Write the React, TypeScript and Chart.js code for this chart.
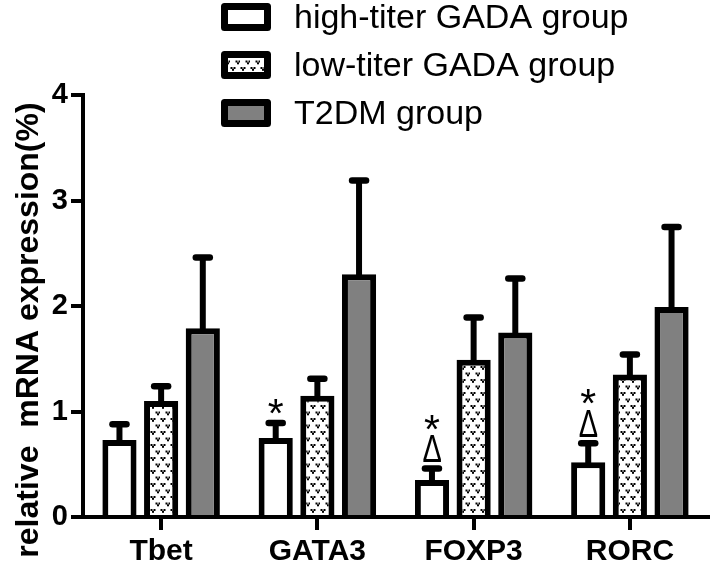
import React, { useEffect, useRef } from "react";
import { Chart, registerables } from "chart.js";

Chart.register(...registerables);

const categories = ["Tbet", "GATA3", "FOXP3", "RORC"];
const seriesNames = ["high-titer GADA group", "low-titer GADA group", "T2DM group"];
const highTiterMean = [0.73, 0.75, 0.35, 0.52];
const highTiterSD = [0.15, 0.14, 0.11, 0.18];
const lowTiterMean = [1.1, 1.15, 1.49, 1.35];
const lowTiterSD = [0.14, 0.16, 0.4, 0.19];
const t2dmMean = [1.79, 2.3, 1.75, 1.99];
const t2dmSD = [0.67, 0.89, 0.51, 0.76];
const starMarks = ["", "*", "*", "*"];
const deltaMarks = ["", "", "Δ", "Δ"];
const yMin = 0;
const yMax = 4;
const yStep = 1;
const yTitle = "relative  mRNA expression(%)";

const FONT = "'Liberation Sans', Arial, sans-serif";

function makePattern(): CanvasPattern | string {
  const c = document.createElement("canvas");
  c.width = 10;
  c.height = 13;
  const g = c.getContext("2d");
  if (!g) return "#ccc";
  g.fillStyle = "#fff";
  g.fillRect(0, 0, 10, 13);
  g.fillStyle = "#000";
  const v = (x: number, y: number) => {
    g.fillRect(x, y, 2, 2);
    g.fillRect(x + 3, y, 2, 2);
    g.fillRect(x + 1.5, y + 1.8, 2, 2);
  };
  v(0.5, 2);
  v(5.5, 8.5);
  const p = g.createPattern(c, "repeat");
  return p || "#ccc";
}

function drawScaledGlyph(ctx: any, text: string, font: string, cx: number, bottom: number, tw: number, th: number) {
  ctx.font = font;
  const m = ctx.measureText(text);
  const h = m.actualBoundingBoxAscent + m.actualBoundingBoxDescent;
  const w = m.actualBoundingBoxLeft + m.actualBoundingBoxRight;
  const sy = th / h;
  const sx = tw / w;
  const midOff = (m.actualBoundingBoxRight - m.actualBoundingBoxLeft) / 2;
  ctx.save();
  ctx.translate(cx, bottom);
  ctx.scale(sx, sy);
  ctx.textAlign = "left";
  ctx.textBaseline = "alphabetic";
  ctx.fillText(text, -midOff, -m.actualBoundingBoxDescent);
  ctx.restore();
  return th;
}

const errorBarPlugin = {
  id: "errorBars",
  afterDatasetsDraw(chart: any) {
    const ctx = chart.ctx;
    const y = chart.scales.y;
    ctx.save();
    ctx.strokeStyle = "#000";
    chart.data.datasets.forEach((ds: any, i: number) => {
      const meta = chart.getDatasetMeta(i);
      meta.data.forEach((bar: any, j: number) => {
        const capY = y.getPixelForValue(ds.data[j] + ds.sd[j]);
        ctx.lineWidth = 6;
        ctx.lineCap = "butt";
        ctx.beginPath();
        ctx.moveTo(bar.x, bar.y + 1);
        ctx.lineTo(bar.x, capY);
        ctx.stroke();
        ctx.lineCap = "round";
        ctx.lineWidth = 6.5;
        ctx.beginPath();
        ctx.moveTo(bar.x - 7, capY);
        ctx.lineTo(bar.x + 7, capY);
        ctx.stroke();
      });
    });
    ctx.restore();
  },
};

const markPlugin = {
  id: "marks",
  afterDatasetsDraw(chart: any) {
    const ctx = chart.ctx;
    const y = chart.scales.y;
    const ds = chart.data.datasets[0];
    const meta = chart.getDatasetMeta(0);
    ctx.save();
    ctx.fillStyle = "#000";
    meta.data.forEach((bar: any, j: number) => {
      const capY = y.getPixelForValue(ds.data[j] + ds.sd[j]);
      let bottom = capY - 9;
      if (deltaMarks[j]) {
        const b = capY - 6;
        const h = drawScaledGlyph(ctx, deltaMarks[j], `32px ${FONT}`, bar.x, b, 19, 27);
        bottom = b - h - 6;
      }
      if (starMarks[j]) {
        drawScaledGlyph(ctx, starMarks[j], `46px ${FONT}`, bar.x, bottom, 16, 15);
      }
    });
    ctx.restore();
  },
};

const legendPlugin = {
  id: "customLegend",
  afterDraw(chart: any) {
    const ctx = chart.ctx;
    ctx.save();
    chart.data.datasets.forEach((ds: any, i: number) => {
      const top = 3 + i * 48;
      const left = 221;
      const w = 50;
      const h = 28;
      ctx.fillStyle = ds.backgroundColor;
      ctx.fillRect(left + 3, top + 3, w - 6, h - 6);
      ctx.strokeStyle = "#000";
      ctx.lineWidth = 7;
      ctx.lineJoin = "round";
      ctx.strokeRect(left + 3.5, top + 3.5, w - 7, h - 7);
      ctx.fillStyle = "#000";
      ctx.font = `34px ${FONT}`;
      ctx.textAlign = "left";
      ctx.textBaseline = "alphabetic";
      ctx.fillText(ds.label, 294, top + 25);
    });
    ctx.restore();
  },
};

const yTitlePlugin = {
  id: "yTitle",
  afterDraw(chart: any) {
    const ctx = chart.ctx;
    ctx.save();
    ctx.translate(38, 330);
    ctx.rotate(-Math.PI / 2);
    ctx.fillStyle = "#000";
    ctx.font = `bold 32px ${FONT}`;
    ctx.textAlign = "center";
    ctx.textBaseline = "alphabetic";
    ctx.fillText(yTitle, 0, 0);
    ctx.restore();
  },
};

export default function App() {
  const ref = useRef<HTMLCanvasElement | null>(null);
  useEffect(() => {
    if (!ref.current) return;
    const pattern = makePattern();
    const common = { borderColor: "#000", borderWidth: 6, borderSkipped: "start" as const };
    const chart = new Chart(ref.current, {
      type: "bar",
      data: {
        labels: categories,
        datasets: [
          { label: seriesNames[0], data: highTiterMean, sd: highTiterSD, backgroundColor: "#ffffff", ...common } as any,
          { label: seriesNames[1], data: lowTiterMean, sd: lowTiterSD, backgroundColor: pattern, ...common } as any,
          { label: seriesNames[2], data: t2dmMean, sd: t2dmSD, backgroundColor: "#808080", ...common } as any,
        ],
      },
      options: {
        responsive: false,
        devicePixelRatio: 1,
        animation: false,
        layout: { padding: { top: 95, right: 10, left: 0, bottom: 0 } },
        datasets: { bar: { categoryPercentage: 0.8, barPercentage: 0.82 } },
        plugins: { legend: { display: false }, tooltip: { enabled: false } },
        scales: {
          x: {
            offset: true,
            afterFit: (s: any) => {
              s.height = 50;
            },
            grid: {
              display: true,
              drawOnChartArea: false,
              drawTicks: true,
              tickLength: 13,
              lineWidth: 4,
              color: "#000",
              offset: false,
            },
            border: { display: true, color: "#000", width: 4 },
            ticks: {
              color: "#000",
              padding: 4,
              font: { family: FONT, size: 30, weight: "bold" },
            },
          },
          y: {
            min: yMin,
            max: yMax,
            afterFit: (s: any) => {
              s.width = 83;
            },
            grid: {
              display: true,
              drawOnChartArea: false,
              drawTicks: true,
              tickLength: 12,
              lineWidth: 4,
              color: "#000",
            },
            border: { display: true, color: "#000", width: 4 },
            ticks: {
              stepSize: yStep,
              color: "#000",
              padding: 3,
              font: { family: FONT, size: 29, weight: "bold" },
            },
          },
        },
      },
      plugins: [errorBarPlugin, markPlugin, legendPlugin, yTitlePlugin],
    });
    return () => chart.destroy();
  }, []);
  return (
    <div style={{ position: "absolute", left: 0, top: 0, width: 718, height: 567, background: "#fff" }}>
      <canvas ref={ref} width={718} height={567} style={{ display: "block" }} />
    </div>
  );
}
